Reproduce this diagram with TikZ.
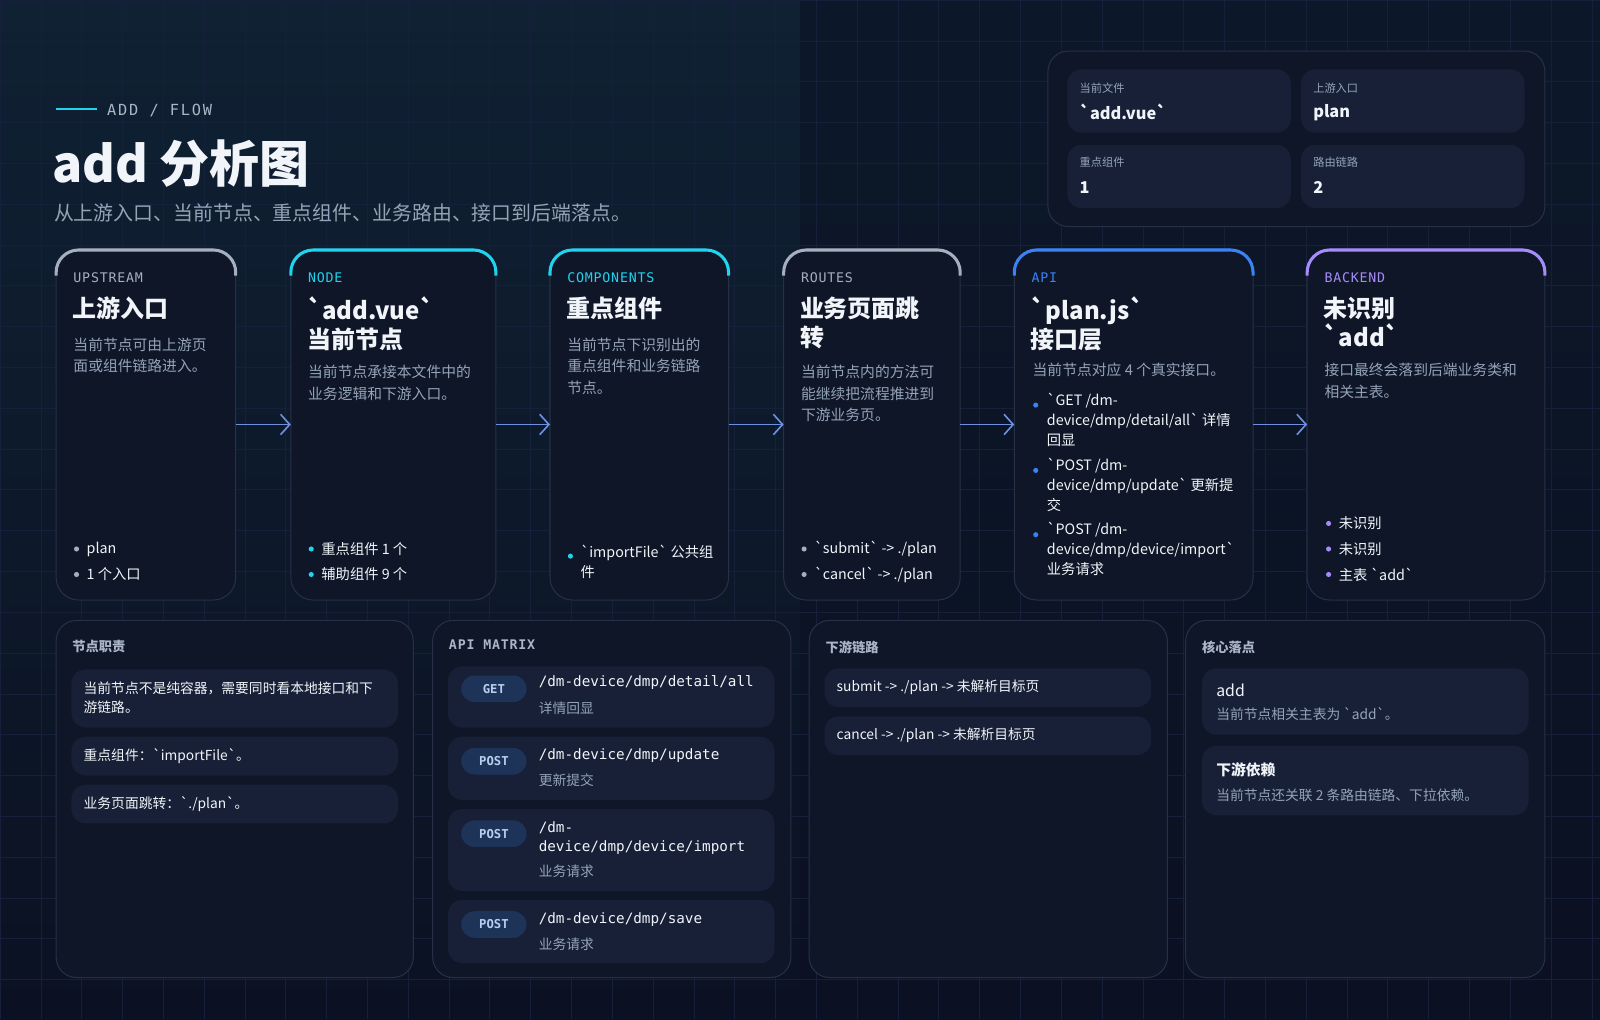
\documentclass[tikz,border=0pt]{standalone}
\usepackage{fontspec}
\setmainfont{Noto Sans CJK SC}[Ligatures=TeXOff]
\setmonofont{DejaVu Sans Mono}[Ligatures=TeXOff]
\usetikzlibrary{arrows.meta}
\definecolor{bg}{HTML}{0B1122}
\definecolor{bgtop}{HTML}{0F2133}
\definecolor{gridc}{HTML}{16203A}
\definecolor{cardf}{HTML}{0E1628}
\definecolor{cardb}{HTML}{263148}
\definecolor{innerf}{HTML}{172036}
\definecolor{txt}{HTML}{F1F5F9}
\definecolor{muted}{HTML}{94A3B8}
\definecolor{head}{HTML}{AAB6C8}
\definecolor{cgray}{HTML}{A5AFBF}
\definecolor{ccyan}{HTML}{22D3EE}
\definecolor{cblue}{HTML}{3B82F6}
\definecolor{cpurp}{HTML}{A78BFA}
\definecolor{arrc}{HTML}{6F8FE0}
\definecolor{pillf}{HTML}{1E3358}
\definecolor{pillt}{HTML}{B9CFF0}
\tikzset{
  x=1pt,y=-1pt,
  every node/.style={inner sep=0,outer sep=0},
  card/.style={fill=cardf,draw=cardb,line width=1,rounded corners=22},
  panel/.style={fill=cardf,draw=cardb,line width=1,rounded corners=20},
  inner/.style={fill=innerf,rounded corners=14},
  tag/.style={anchor=west,font=\ttfamily\fontsize{13}{15}\selectfont\addfontfeature{LetterSpace=6}},
  ctitle/.style={anchor=north west,align=left,text=txt,font=\bfseries\fontsize{23.5}{28}\selectfont},
  cdesc/.style={anchor=north west,align=left,text=muted,font=\fontsize{14.5}{21}\selectfont},
  bul/.style={anchor=west,align=left,text=txt,font=\fontsize{14}{19.5}\selectfont},
  bulnw/.style={anchor=north west,align=left,text=txt,font=\fontsize{14}{19.5}\selectfont},
  dotc/.style={circle,minimum size=5},
  flowarr/.style={draw=arrc,line width=1.2,-{Straight Barb[length=9pt,width=20pt,line width=1.6pt]}},
  phead/.style={anchor=west,text=head,font=\bfseries\fontsize{13}{15}\selectfont},
  itxt/.style={anchor=west,align=left,text=txt,font=\fontsize{13.5}{19}\selectfont},
  isub/.style={anchor=west,text=muted,font=\fontsize{13.5}{16}\selectfont},
  mpath/.style={anchor=west,align=left,text=txt,font=\ttfamily\fontsize{14}{19}\selectfont},
  pill/.style={fill=pillf,rounded corners=13,minimum width=64,minimum height=26,text=pillt,font=\ttfamily\bfseries\fontsize{12}{14}\selectfont},
  slab/.style={anchor=west,text=muted,font=\fontsize{11}{13}\selectfont},
  sval/.style={anchor=west,text=txt,font=\bfseries\fontsize{16}{18}\selectfont},
}
\begin{document}
\begin{tikzpicture}
\useasboundingbox (0,0) rectangle (1568,999);
\shade[top color=bgtop,bottom color=bg] (0,0) rectangle (1568,999);
\fill[bg,opacity=0.5] (784,0) rectangle (1568,999);
\draw[gridc,line width=0.6,step=40pt] (0,0) grid (1568,999);

% header
\draw[ccyan,line width=1.5] (55,107) -- (95,107);
\node[anchor=west,text=head,font=\ttfamily\fontsize{15}{18}\selectfont\addfontfeature{LetterSpace=12}] (kicker) at (105,108) {ADD / FLOW};
\node[anchor=west,text=txt,font=\bfseries\fontsize{49}{56}\selectfont] (title) at (51,160) {add 分析图};
\node[anchor=west,text=muted,font=\fontsize{19.5}{22}\selectfont] (subtitle) at (53,209) {从上游入口、当前节点、重点组件、业务路由、接口到后端落点。};

% stats panel
\draw[panel] (1027,50) rectangle (1514,222);
\fill[inner] (1046,68) rectangle (1265,130);
\fill[inner] (1275,68) rectangle (1494,130);
\fill[inner] (1046,142) rectangle (1265,204);
\fill[inner] (1275,142) rectangle (1494,204);
\node[slab] (s1l) at (1058,86) {当前文件};
\node[sval] (s1v) at (1058,110) {`add.vue`};
\node[slab] (s2l) at (1287,86) {上游入口};
\node[sval] (s2v) at (1287,110) {plan};
\node[slab] (s3l) at (1058,159) {重点组件};
\node[sval] (s3v) at (1058,184) {1};
\node[slab] (s4l) at (1287,159) {路由链路};
\node[sval] (s4v) at (1287,184) {2};

% cards
\foreach \n/\xa/\xb/\col in {c1/55/231/cgray,c2/285/486/ccyan,c3/539/714/ccyan,c4/768/941/cgray,c5/994/1228/cblue,c6/1281/1514/cpurp}{
  \path[card] (\xa,244) rectangle (\xb,588);
  \coordinate (\n w) at (\xa,416);
  \coordinate (\n e) at (\xb,416);
  \draw[\col,line width=3,rounded corners=22] (\xa,270) -- (\xa,245) -- (\xb,245) -- (\xb,270);
}
\draw[flowarr] (c1e) -- (c2w);
\draw[flowarr] (c2e) -- (c3w);
\draw[flowarr] (c3e) -- (c4w);
\draw[flowarr] (c4e) -- (c5w);
\draw[flowarr] (c5e) -- (c6w);

% card 1
\node[tag,text=cgray] (t1) at (72,272) {UPSTREAM};
\node[ctitle] (h1) at (71,291) {上游入口};
\node[cdesc] (d1) at (72,331) {当前节点可由上游页\\面或组件链路进入。};
\node[dotc,fill=cgray] (b1a) at (75,538) {}; \node[bul] at (85,538) {plan};
\node[dotc,fill=cgray] (b1b) at (75,563) {}; \node[bul] at (85,563) {1 个入口};

% card 2
\node[tag,text=ccyan] (t2) at (302,272) {NODE};
\node[ctitle] (h2) at (301,291) {`add.vue`\\当前节点};
\node[cdesc] (d2) at (302,358) {当前节点承接本文件中的\\业务逻辑和下游入口。};
\node[dotc,fill=ccyan] (b2a) at (305,538) {}; \node[bul] at (315,538) {重点组件 1 个};
\node[dotc,fill=ccyan] (b2b) at (305,563) {}; \node[bul] at (315,563) {辅助组件 9 个};

% card 3
\node[tag,text=ccyan] (t3) at (556,272) {COMPONENTS};
\node[ctitle] (h3) at (555,291) {重点组件};
\node[cdesc] (d3) at (556,331) {当前节点下识别出的\\重点组件和业务链路\\节点。};
\node[dotc,fill=ccyan] (b3a) at (559,545) {}; \node[bulnw] at (569,534) {`importFile` 公共组\\件};

% card 4
\node[tag,text=cgray] (t4) at (785,272) {ROUTES};
\node[ctitle] (h4) at (784,291) {业务页面跳\\转};
\node[cdesc] (d4) at (785,358) {当前节点内的方法可\\能继续把流程推进到\\下游业务页。};
\node[dotc,fill=cgray] (b4a) at (788,538) {}; \node[bul] at (798,538) {`submit` -> ./plan};
\node[dotc,fill=cgray] (b4b) at (788,563) {}; \node[bul] at (798,563) {`cancel` -> ./plan};

% card 5
\node[tag,text=cblue] (t5) at (1011,272) {API};
\node[ctitle] (h5) at (1010,291) {`plan.js`\\接口层};
\node[cdesc] (d5) at (1012,356) {当前节点对应 4 个真实接口。};
\node[dotc,fill=cblue] (b5a) at (1015,397) {}; \node[bulnw] at (1026,385) {`GET /dm-\\device/dmp/detail/all` 详情\\回显};
\node[dotc,fill=cblue] (b5b) at (1015,461) {}; \node[bulnw] at (1026,449) {`POST /dm-\\device/dmp/update` 更新提\\交};
\node[dotc,fill=cblue] (b5c) at (1015,524) {}; \node[bulnw] at (1026,512) {`POST /dm-\\device/dmp/device/import`\\业务请求};

% card 6
\node[tag,text=cpurp] (t6) at (1298,272) {BACKEND};
\node[ctitle] (h6) at (1297,291) {未识别\\`add`};
\node[cdesc] (d6) at (1298,356) {接口最终会落到后端业务类和\\相关主表。};
\node[dotc,fill=cpurp] (b6a) at (1302,513) {}; \node[bul] at (1312,513) {未识别};
\node[dotc,fill=cpurp] (b6b) at (1302,538) {}; \node[bul] at (1312,538) {未识别};
\node[dotc,fill=cpurp] (b6c) at (1302,563) {}; \node[bul] at (1312,563) {主表 `add`};

% bottom panels
\draw[panel] (55,608) rectangle (405,958);
\draw[panel] (424,608) rectangle (775,958);
\draw[panel] (793,608) rectangle (1144,958);
\draw[panel] (1162,608) rectangle (1514,958);

% P1
\node[phead] (p1h) at (71,634) {节点职责};
\fill[inner] (70,656) rectangle (390,713);
\node[itxt] (p1a) at (82,684) {当前节点不是纯容器，需要同时看本地接口和下\\游链路。};
\fill[inner] (70,722) rectangle (390,760);
\node[itxt] (p1b) at (82,741) {重点组件：`importFile`。};
\fill[inner] (70,769) rectangle (390,807);
\node[itxt] (p1c) at (82,788) {业务页面跳转：`./plan`。};

% P2
\node[phead,font=\ttfamily\bfseries\fontsize{13}{15}\selectfont\addfontfeature{LetterSpace=6}] (p2h) at (440,632) {API MATRIX};
\fill[inner] (439,653) rectangle (759,713);
\node[pill] (g1) at (484,675) {GET};
\node[mpath] (m1) at (528,669) {/dm-device/dmp/detail/all};
\node[isub] at (528,694) {详情回显};
\fill[inner] (439,722) rectangle (759,784);
\node[pill] (g2) at (484,746) {POST};
\node[mpath] (m2) at (528,740) {/dm-device/dmp/update};
\node[isub] at (528,765) {更新提交};
\fill[inner] (439,793) rectangle (759,873);
\node[pill] (g3) at (484,817) {POST};
\node[mpath] (m3) at (528,821) {/dm-\\device/dmp/device/import};
\node[isub] at (528,854) {业务请求};
\fill[inner] (439,882) rectangle (759,944);
\node[pill] (g4) at (484,906) {POST};
\node[mpath] (m4) at (528,901) {/dm-device/dmp/save};
\node[isub] at (528,925) {业务请求};

% P3
\node[phead] (p3h) at (809,634) {下游链路};
\fill[inner] (808,655) rectangle (1128,693);
\node[itxt] (p3a) at (820,674) {submit -> ./plan -> 未解析目标页};
\fill[inner] (808,702) rectangle (1128,740);
\node[itxt] (p3b) at (820,721) {cancel -> ./plan -> 未解析目标页};

% P4
\node[phead] (p4h) at (1178,634) {核心落点};
\fill[inner] (1178,655) rectangle (1498,720);
\node[itxt,font=\fontsize{15.5}{18}\selectfont] (p4a) at (1192,676) {add};
\node[isub] at (1192,700) {当前节点相关主表为 `add`。};
\fill[inner] (1178,731) rectangle (1498,799);
\node[itxt,font=\bfseries\fontsize{14.5}{18}\selectfont] (p4b) at (1192,754) {下游依赖};
\node[isub] at (1192,779) {当前节点还关联 2 条路由链路、下拉依赖。};
\end{tikzpicture}
\end{document}
